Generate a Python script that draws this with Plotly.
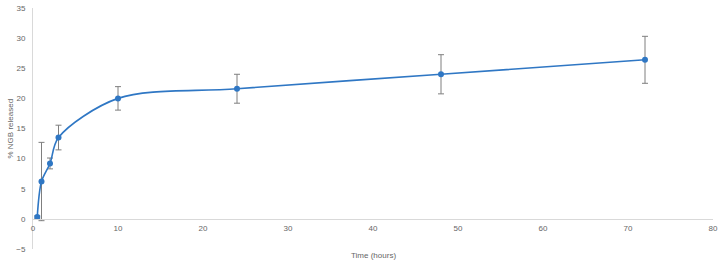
import plotly.graph_objects as go

time_h = [0.5, 1, 2, 3, 10, 24, 48, 72]
released = [0.3, 6.2, 9.2, 13.5, 20.0, 21.6, 24.0, 26.4]
err = [0.2, 6.5, 0.9, 2.05, 1.95, 2.4, 3.25, 3.9]

x_ticks = [0, 10, 20, 30, 40, 50, 60, 70, 80]
y_ticks = [-5, 0, 5, 10, 15, 20, 25, 30, 35]

LINE = "#2F77C4"
GRAY = "#666666"
AXIS = "#D9D9D9"
FONT = "Liberation Sans"

fig = go.Figure()
fig.add_trace(go.Scatter(
    x=time_h, y=released, mode="lines+markers",
    line=dict(color=LINE, width=1.6, shape="spline", smoothing=0.9),
    marker=dict(color=LINE, size=6),
    error_y=dict(type="data", array=err, visible=True, color="#7F7F7F", thickness=1, width=3),
    showlegend=False,
))

fig.update_layout(
    width=724, height=264,
    margin=dict(l=33, r=11, t=8, b=15),
    paper_bgcolor="white", plot_bgcolor="white",
    font=dict(family=FONT, size=8, color=GRAY),
    xaxis=dict(
        range=[0, 80], tickvals=x_ticks, showgrid=False, zeroline=False,
        showline=True, linecolor=AXIS, linewidth=1, automargin=False,
        anchor="free", position=5 / 40, ticks="", ticklen=0,
        ticklabelstandoff=2,
        tickfont=dict(size=8, color=GRAY),
    ),
    yaxis=dict(
        range=[-5, 35], tickvals=y_ticks, showgrid=False, zeroline=False,
        showline=True, linecolor=AXIS, linewidth=1, ticks="", automargin=False,
        ticklabelstandoff=5,
        tickfont=dict(size=8, color=GRAY),
    ),
    annotations=[
        dict(text="Time (hours)", x=0.5, xref="paper", y=-0.025, yref="paper",
             yanchor="middle", showarrow=False, font=dict(size=8, color=GRAY)),
        dict(text="% NGB released", x=-23 / 680, xref="paper", xanchor="center",
             y=0.5, yref="paper", textangle=-90, showarrow=False,
             font=dict(size=8, color=GRAY)),
    ],
)

fig.write_html(
    "out.html",
    config={"displayModeBar": False},
    post_script="document.body.style.margin='0';document.body.style.overflow='hidden';",
)
